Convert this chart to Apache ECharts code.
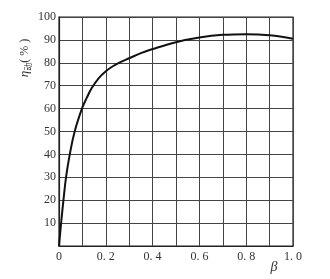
<!DOCTYPE html>
<html><head><meta charset="utf-8">
<script src="https://cdn.jsdelivr.net/npm/echarts@6/dist/echarts.min.js"></script>
<style>html,body{margin:0;padding:0;background:#fff}#c{width:330px;height:279px}</style>
</head><body><div id="c"></div>
<script>
var betaValues = [0, 0.01, 0.02, 0.03, 0.046, 0.067, 0.1, 0.12, 0.14, 0.17, 0.2, 0.23, 0.26, 0.3, 0.35, 0.4, 0.5, 0.6, 0.7, 0.8, 0.9, 1.0];
var etaValues  = [0, 11, 21, 30, 40, 50, 60.5, 65, 69, 73.3, 76.3, 78.5, 80.2, 82, 84.2, 86, 89, 91, 92.2, 92.5, 92, 90.5];
var xTickLabels = {'0':'0','0.2':'0. 2','0.4':'0. 4','0.6':'0. 6','0.8':'0. 8','1':'1. 0'};
var yTickLabels = ['10','20','30','40','50','60','70','80','90','100'];

var data = betaValues.map(function(b,i){return [b, etaValues[i]];});
var font = '"Liberation Serif","DejaVu Serif",serif';
var chart = echarts.init(document.getElementById('c'));
chart.setOption({
  animation:false,
  grid:{left:59,right:37,top:17,bottom:33},
  xAxis:{type:'value',min:0,max:1,interval:0.1,
    axisLine:{show:true,onZero:false,lineStyle:{color:'#222',width:1.2}},
    axisTick:{show:false},
    splitLine:{show:true,lineStyle:{color:'#444',width:1}},
    axisLabel:{color:'#333',fontFamily:font,fontSize:12,margin:5,
      formatter:function(v){var k=String(Math.round(v*10)/10);return xTickLabels[k]||'';}}
  },
  yAxis:{type:'value',min:0,max:100,interval:10,
    axisLine:{show:true,lineStyle:{color:'#222',width:1.2}},
    axisTick:{show:false},
    splitLine:{show:true,lineStyle:{color:'#444',width:1}},
    axisLabel:{color:'#333',fontFamily:font,fontSize:12,margin:3,
      formatter:function(v){return yTickLabels.indexOf(String(v))>=0?String(v):'';}}
  },
  series:[{type:'line',data:data,smooth:0.4,showSymbol:false,
    lineStyle:{color:'#111',width:2}}],
  graphic:[
    {type:'rect',shape:{x:59,y:17,width:234,height:229},style:{fill:'none',stroke:'#222',lineWidth:1.2},silent:true},
    {type:'text',x:25,y:58,rotation:Math.PI/2,
      style:{text:'{a|η}{b|动}{c|( % )}',align:'center',verticalAlign:'middle',
        rich:{a:{fontFamily:font,fontStyle:'italic',fontSize:13,fill:'#333'},
              b:{fontFamily:'"Noto Sans CJK SC",sans-serif',fontSize:8,fill:'#333',padding:[6,0,0,0]},
              c:{fontFamily:font,fontSize:12,fill:'#333'}}}},
    {type:'text',x:274,y:267,
      style:{text:'β',fontFamily:font,fontStyle:'italic',fontSize:14,fill:'#333',align:'center',verticalAlign:'middle'}}
  ]
});
</script></body></html>
